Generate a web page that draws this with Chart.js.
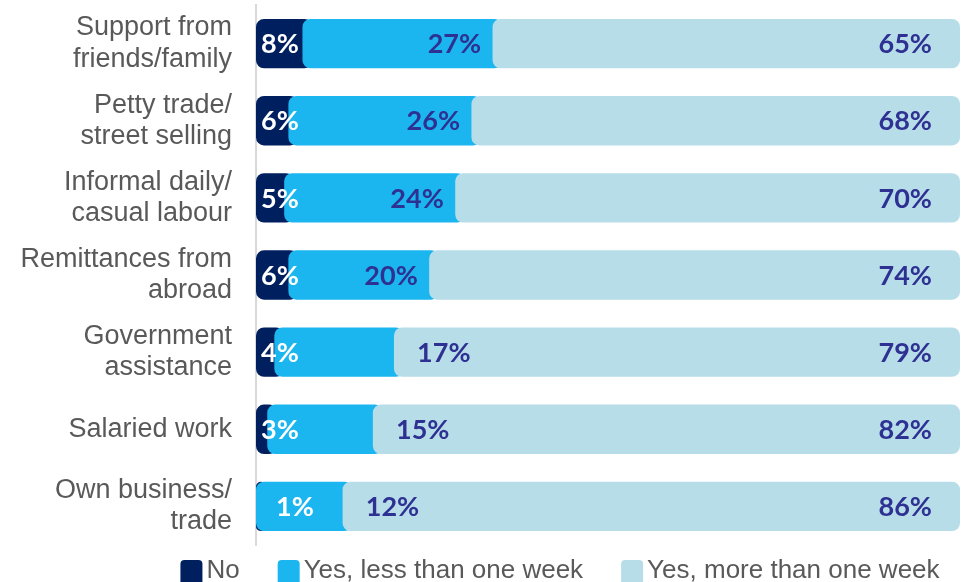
<!DOCTYPE html>
<html>
<head>
<meta charset="utf-8">
<script src="https://cdn.jsdelivr.net/npm/chart.js@4/dist/chart.umd.min.js"></script>
<style>
html,body{margin:0;padding:0;background:#fff;}
#wrap{width:969px;height:582px;position:relative;}
</style>
</head>
<body>
<div id="wrap"><canvas id="c" width="969" height="582"></canvas></div>
<script>
const categories = [
  ["Support from", "friends/family"],
  ["Petty trade/", "street selling"],
  ["Informal daily/", "casual labour"],
  ["Remittances from", "abroad"],
  ["Government", "assistance"],
  ["Salaried work"],
  ["Own business/", "trade"]
];
const seriesNames = ["No", "Yes, less than one week", "Yes, more than one week"];
// values (labels show them rounded)
const noValues = [8, 6, 5.4, 6, 4, 3, 1.4];
const lessWeekValues = [27, 26, 24.3, 20, 17, 15, 12.3];
const moreWeekValues = [65, 68, 70.3, 74, 79, 82, 86.3];

const seriesValues = [noValues, lessWeekValues, moreWeekValues];
const colors = ["#001f5f", "#1bb6ef", "#b7dde9"];
const labelColors = ["#ffffff", "#2e3192", "#2e3192"];
const OVERLAP = 1.4;

function ranges(k) {
  return seriesValues[k].map((v, i) => {
    let start = 0;
    for (let j = 0; j < k; j++) start += seriesValues[j][i];
    const s = k === 0 ? start : Math.max(0, start - OVERLAP);
    return [s, start + v];
  });
}

const datasets = seriesValues.map((vals, k) => ({
  label: seriesNames[k],
  data: ranges(k),
  backgroundColor: colors[k],
  borderRadius: 8,
  borderSkipped: false,
  order: 2 - k,
  grouped: false,
  categoryPercentage: 0.64,
  barPercentage: 1.0
}));

const valueLabels = {
  id: 'valueLabels',
  afterDatasetsDraw(chart) {
    const ctx = chart.ctx;
    const xs = chart.scales.x;
    ctx.save();
    ctx.font = "bold 27px Lato, 'Open Sans', sans-serif";
    ctx.textBaseline = 'middle';
    categories.forEach((c, i) => {
      const meta0 = chart.getDatasetMeta(0).data[i];
      const y = meta0.y + 1;
      let cum = 0;
      seriesValues.forEach((vals, k) => {
        const v = vals[i];
        const startPx = xs.getPixelForValue(cum);
        cum += v;
        const endPx = xs.getPixelForValue(cum);
        const txt = Math.round(v) + '%';
        ctx.fillStyle = labelColors[k];
        if (k === 0) {
          ctx.textAlign = 'center';
          ctx.fillText(txt, startPx + (v < 2 ? 39 : 24), y);
        } else if (k === 1) {
          ctx.textAlign = 'center';
          if (v <= 17) ctx.fillText(txt, endPx + 40, y);
          else ctx.fillText(txt, endPx - 48, y);
        } else {
          ctx.textAlign = 'right';
          ctx.fillText(txt, endPx - 28, y);
        }
      });
    });
    ctx.restore();
  }
};

const customLegend = {
  id: 'customLegend',
  afterDraw(chart) {
    const ctx = chart.ctx;
    ctx.save();
    ctx.font = "26px 'Liberation Sans', Arial, sans-serif";
    const box = 22, gapText = 4, gapItem = 38;
    const widths = seriesNames.map(n => ctx.measureText(n).width);
    let total = 0;
    widths.forEach((w, k) => { total += box + gapText + w + (k < widths.length - 1 ? gapItem : 0); });
    let x = 560 - total / 2;
    const boxTop = 560, baseline = 578;
    seriesNames.forEach((n, k) => {
      ctx.fillStyle = colors[k];
      ctx.beginPath();
      ctx.roundRect(x, boxTop, box, box + 4, 4);
      ctx.fill();
      ctx.fillStyle = '#595959';
      ctx.textAlign = 'left';
      ctx.textBaseline = 'alphabetic';
      ctx.fillText(n, x + box + gapText, baseline);
      x += box + gapText + widths[k] + gapItem;
    });
    ctx.restore();
  }
};

new Chart(document.getElementById('c'), {
  type: 'bar',
  data: { labels: categories, datasets: datasets },
  options: {
    indexAxis: 'y',
    responsive: false,
    animation: false,
    layout: { padding: { top: 5, bottom: 37, right: 9, left: 0 } },
    plugins: { legend: { display: false }, tooltip: { enabled: false } },
    scales: {
      x: { min: 0, max: 100, display: false, stacked: false },
      y: {
        grid: { display: false, drawTicks: false },
        border: { display: true, color: '#d9d9d9', width: 2 },
        ticks: {
          color: '#595959',
          padding: 24,
          font: { family: "'Liberation Sans', Arial, sans-serif", size: 27, lineHeight: 1.15 }
        },
        afterFit(scale) { scale.width = 256; scale.paddingTop = 0; scale.paddingBottom = 0; }
      }
    }
  },
  plugins: [valueLabels, customLegend]
});
</script>
</body>
</html>
